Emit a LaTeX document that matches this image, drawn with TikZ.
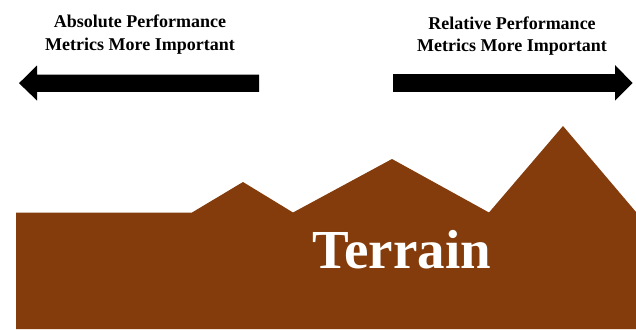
\documentclass[tikz,border=0pt]{standalone}
\usepackage{fontspec}
\setmainfont{Liberation Serif}
\usepackage{xcolor}
\usepackage{tikz}
\usetikzlibrary{positioning}

\definecolor{soilbrown}{RGB}{132,60,12}

\tikzset{
  caption/.style={font=\bfseries\fontsize{18}{22}\selectfont, align=center, inner sep=0pt},
  bigarrow/.style={fill=black, draw=none}
}

\begin{document}
\begin{tikzpicture}[x=1pt,y=1pt,yscale=-1,xscale=1]
\useasboundingbox (0,0) rectangle (636,329);

%Shape: Terrain [id:dp_terrain]
\fill [soilbrown] (16,329) -- (16,212.5) -- (192,212.5) -- (243,182) -- (293,212.5) -- (392,159) -- (489,212.5) -- (563,126) -- (636,212) -- (636,329) -- cycle ;

%Shape: Left Arrow [id:dp_leftarrow]
\fill [bigarrow] (259,74.5) -- (37,74.5) -- (37,65.5) -- (19,83.2) -- (37,100.5) -- (37,91.8) -- (259,91.8) -- cycle ;
%Shape: Right Arrow [id:dp_rightarrow]
\fill [bigarrow] (393,74) -- (615,74) -- (615,65) -- (632.5,83) -- (615,100.5) -- (615,91.8) -- (393,91.8) -- cycle ;

% Text Node
\node (absolute) [caption, anchor=base] at (140,50) {Absolute Performance\\Metrics More Important};
% Text Node
\node (relative) [caption, anchor=base] at (512,51.5) {Relative Performance\\Metrics More Important};
% Text Node
\node (terrain) [font=\bfseries\fontsize{55}{60}\selectfont, text=white, inner sep=0pt, anchor=base] at (402,268) {Terrain};

\end{tikzpicture}
\end{document}
